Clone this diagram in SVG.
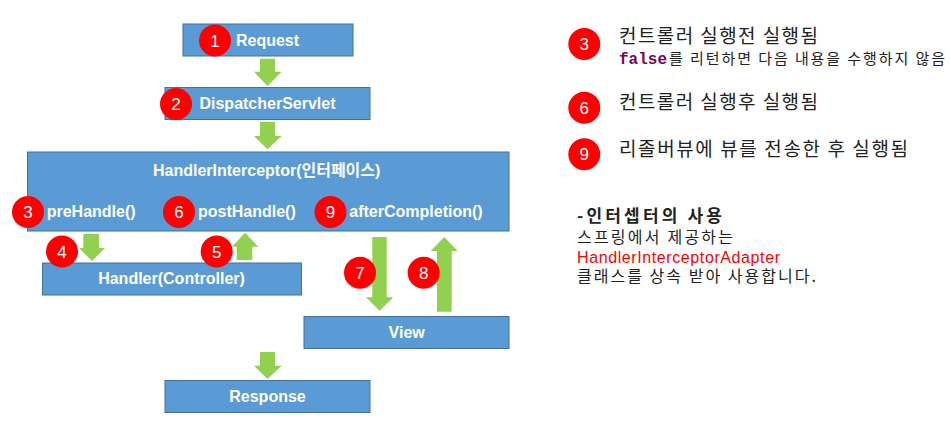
<svg xmlns="http://www.w3.org/2000/svg" width="951" height="435" viewBox="0 0 951 435">
<style>
.box{fill:#5B9BD5;stroke:#41719C;stroke-width:1}
.bl{font-family:"Liberation Sans","Noto Sans CJK KR",sans-serif;font-weight:bold;font-size:16px;fill:#fff}
.arr{fill:#92D050}
.num{fill:#FF0000}
.nt{font-family:"Liberation Sans",sans-serif;font-size:17px;fill:#fff;text-anchor:middle}
.kr{font-family:"Noto Sans CJK KR",sans-serif;fill:#222}
</style>
<rect width="951" height="435" fill="#fff"/>
<g id="connectors">
<polygon class="arr" points="260,58.7 275,58.7 275,71.7 281.7,71.7 267.5,86 254,71.7 260,71.7"/>
<polygon class="arr" points="260,122 275,122 275,136 281.7,136 267.5,149.3 254,136 260,136"/>
<polygon class="arr" points="83.3,234 99,234 99,248 105,248 92,261 79,248 83.3,248"/>
<polygon class="arr" points="236.7,260 252.3,260 252.3,246.7 258.3,246.7 245,232.7 232,246.7 236.7,246.7"/>
<polygon class="arr" points="372.3,237 386.7,237 386.7,297.3 393.3,297.3 379.7,310.7 366,297.3 372.3,297.3"/>
<polygon class="arr" points="437,311.7 451.7,311.7 451.7,251 457.7,251 444.2,237 430.7,251 437,251"/>
<polygon class="arr" points="260,352 275,352 275,365.7 281.7,365.7 267.5,379 254,365.7 260,365.7"/>
</g>
<g id="request">
<rect class="box" x="183" y="24" width="170" height="32"/>
<text class="bl" x="267.5" y="46" text-anchor="middle">Request</text>
</g>
<g id="dispatcher">
<rect class="box" x="165" y="87.5" width="205" height="32"/>
<text class="bl" x="267.5" y="109" text-anchor="middle">DispatcherServlet</text>
</g>
<g id="interceptor">
<rect class="box" x="27.5" y="152" width="481.5" height="79"/>
<text class="bl" x="266.7" y="176" text-anchor="middle">HandlerInterceptor(인터페이스)</text>
<text class="bl" x="46.7" y="217">preHandle()</text>
<text class="bl" x="198" y="217">postHandle()</text>
<text class="bl" x="349.3" y="217">afterCompletion()</text>
</g>
<g id="handler">
<rect class="box" x="42.5" y="263" width="259" height="32"/>
<text class="bl" x="171.5" y="283.5" text-anchor="middle">Handler(Controller)</text>
</g>
<g id="view">
<rect class="box" x="304" y="316.5" width="205" height="32"/>
<text class="bl" x="406.7" y="337.5" text-anchor="middle">View</text>
</g>
<g id="response">
<rect class="box" x="165" y="380.5" width="205" height="32"/>
<text class="bl" x="267.5" y="401.5" text-anchor="middle">Response</text>
</g>
<g id="badges">
<circle class="num" cx="215" cy="40.5" r="16"/><text class="nt" x="215" y="46.5">1</text>
<circle class="num" cx="176" cy="104" r="16"/><text class="nt" x="176" y="110">2</text>
<circle class="num" cx="28" cy="212" r="16"/><text class="nt" x="28" y="218">3</text>
<circle class="num" cx="179" cy="212" r="16"/><text class="nt" x="179" y="218">6</text>
<circle class="num" cx="330.5" cy="212" r="16"/><text class="nt" x="330.5" y="218">9</text>
<circle class="num" cx="62" cy="251.5" r="16"/><text class="nt" x="62" y="257.5">4</text>
<circle class="num" cx="216.7" cy="251.5" r="16"/><text class="nt" x="216.7" y="257.5">5</text>
<circle class="num" cx="360" cy="272.7" r="16"/><text class="nt" x="360" y="278.7">7</text>
<circle class="num" cx="423.7" cy="272.7" r="16"/><text class="nt" x="423.7" y="278.7">8</text>
</g>
<g id="notes">
<circle class="num" cx="584.3" cy="44" r="16"/><text class="nt" x="584.3" y="50">3</text>
<text class="kr" x="619" y="43" font-size="19" textLength="199" lengthAdjust="spacing">컨트롤러 실행전 실행됨</text>
<text x="619" y="64" font-family="'Liberation Mono',monospace" font-weight="bold" font-size="16" fill="#7F0055">false</text>
<text class="kr" x="669" y="64" font-size="15" textLength="276" lengthAdjust="spacing">를 리턴하면 다음 내용을 수행하지 않음</text>
<circle class="num" cx="584.3" cy="107.7" r="16"/><text class="nt" x="584.3" y="113.7">6</text>
<text class="kr" x="619" y="108.5" font-size="19" textLength="199" lengthAdjust="spacing">컨트롤러 실행후 실행됨</text>
<circle class="num" cx="584.3" cy="154.3" r="16"/><text class="nt" x="584.3" y="160.3">9</text>
<text class="kr" x="619" y="156" font-size="19" textLength="289" lengthAdjust="spacing">리졸버뷰에 뷰를 전송한 후 실행됨</text>
<text class="kr" x="577" y="221.5" font-size="17" font-weight="bold" textLength="145" lengthAdjust="spacing">-인터셉터의 사용</text>
<text class="kr" x="577" y="243" font-size="16" textLength="156" lengthAdjust="spacing">스프링에서 제공하는</text>
<text x="577" y="263" font-family="'Liberation Sans',sans-serif" font-size="16" fill="#FF0000" textLength="203" lengthAdjust="spacing">HandlerInterceptorAdapter</text>
<text class="kr" x="577" y="282" font-size="16" textLength="239" lengthAdjust="spacing">클래스를 상속 받아 사용합니다.</text>
</g>
</svg>
